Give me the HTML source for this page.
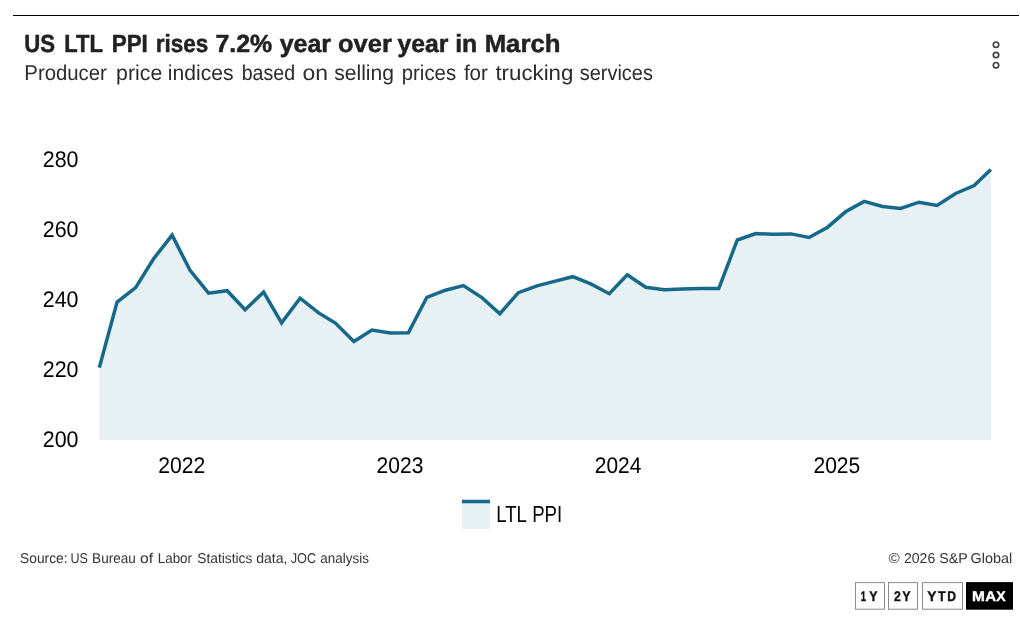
<!DOCTYPE html>
<html lang="en">
<head>
<meta charset="utf-8">
<title>US LTL PPI rises 7.2% year over year in March</title>
<style>
html,body{margin:0;padding:0;background:#fff;}
body{width:1020px;height:627px;overflow:hidden;font-family:"Liberation Sans",sans-serif;}
svg{display:block;position:absolute;left:0;top:0;}
text{font-family:"Liberation Sans",sans-serif;text-rendering:geometricPrecision;}
</style>
</head>
<body>
<svg width="1020" height="627" viewBox="0 0 1020 627">
<rect x="13" y="15" width="1006" height="1" fill="#000"/>
<g fill="none" stroke="#444" stroke-width="1.7">
<circle cx="996" cy="44.7" r="2.7"/><circle cx="996" cy="55" r="2.7"/><circle cx="996" cy="65.2" r="2.7"/>
</g>
<path d="M99.3,367.6 L117.09,302 L135.63,287.6 L153.57,258.8 L172.11,235.1 L190.05,270.4 L208.59,293.2 L227.13,290.7 L245.08,309.8 L263.62,292 L281.56,322.8 L300.1,298.2 L318.64,312.9 L335.39,323.1 L353.93,341.5 L371.87,330 L390.41,332.9 L408.35,332.7 L426.89,297.3 L445.43,290.2 L463.37,285.6 L481.92,297.6 L499.86,313.7 L518.4,292.7 L536.94,285.9 L554.28,281.4 L572.82,276.7 L590.77,283.9 L609.31,293.7 L627.25,274.7 L645.79,287.2 L664.33,289.8 L682.27,289.0 L700.81,288.6 L718.75,288.6 L737.3,240 L755.84,233.5 L772.58,234.3 L791.12,233.9 L809.06,237.5 L827.61,227.2 L845.55,211.8 L864.09,201.4 L882.63,206.5 L900.57,208.4 L919.11,202.2 L937.05,205.5 L955.59,193.5 L974.13,185.5 L990.88,169.4 L990.88,440 L99.3,440 Z" fill="#e7f0f3"/>
<path d="M99.3,367.6 L117.09,302 L135.63,287.6 L153.57,258.8 L172.11,235.1 L190.05,270.4 L208.59,293.2 L227.13,290.7 L245.08,309.8 L263.62,292 L281.56,322.8 L300.1,298.2 L318.64,312.9 L335.39,323.1 L353.93,341.5 L371.87,330 L390.41,332.9 L408.35,332.7 L426.89,297.3 L445.43,290.2 L463.37,285.6 L481.92,297.6 L499.86,313.7 L518.4,292.7 L536.94,285.9 L554.28,281.4 L572.82,276.7 L590.77,283.9 L609.31,293.7 L627.25,274.7 L645.79,287.2 L664.33,289.8 L682.27,289.0 L700.81,288.6 L718.75,288.6 L737.3,240 L755.84,233.5 L772.58,234.3 L791.12,233.9 L809.06,237.5 L827.61,227.2 L845.55,211.8 L864.09,201.4 L882.63,206.5 L900.57,208.4 L919.11,202.2 L937.05,205.5 L955.59,193.5 L974.13,185.5 L990.88,169.4" fill="none" stroke="#16698a" stroke-width="3.5" stroke-linejoin="miter"/>
<rect x="462" y="501" width="28" height="27.7" fill="#e7f0f3"/>
<rect x="462" y="499.75" width="28" height="3.5" fill="#16698a"/>
<text y="52.00" font-size="24.80" font-weight="700" fill="#222" stroke="#222" stroke-width="0.5"><tspan x="24.22" textLength="30.80" lengthAdjust="spacingAndGlyphs">US</tspan> <tspan x="64.23" textLength="38.24" lengthAdjust="spacingAndGlyphs">LTL</tspan> <tspan x="111.68" textLength="36.16" lengthAdjust="spacingAndGlyphs">PPI</tspan> <tspan x="155.78" textLength="52.39" lengthAdjust="spacingAndGlyphs">rises</tspan> <tspan x="215.45" textLength="56.83" lengthAdjust="spacingAndGlyphs">7.2%</tspan> <tspan x="279.70" textLength="51.39" lengthAdjust="spacingAndGlyphs">year</tspan> <tspan x="338.03" textLength="53.83" lengthAdjust="spacingAndGlyphs">over</tspan> <tspan x="397.40" textLength="50.88" lengthAdjust="spacingAndGlyphs">year</tspan> <tspan x="455.21" textLength="22.10" lengthAdjust="spacingAndGlyphs">in</tspan> <tspan x="484.65" textLength="75.89" lengthAdjust="spacingAndGlyphs">March</tspan></text>
<text y="79.70" font-size="21.45" font-weight="400" fill="#2b2b2b"><tspan x="24.37" textLength="82.49" lengthAdjust="spacingAndGlyphs">Producer</tspan> <tspan x="116.11" textLength="46.10" lengthAdjust="spacingAndGlyphs">price</tspan> <tspan x="167.82" textLength="65.77" lengthAdjust="spacingAndGlyphs">indices</tspan> <tspan x="241.63" textLength="53.44" lengthAdjust="spacingAndGlyphs">based</tspan> <tspan x="302.58" textLength="25.55" lengthAdjust="spacingAndGlyphs">on</tspan> <tspan x="334.27" textLength="59.70" lengthAdjust="spacingAndGlyphs">selling</tspan> <tspan x="401.78" textLength="54.29" lengthAdjust="spacingAndGlyphs">prices</tspan> <tspan x="463.89" textLength="24.06" lengthAdjust="spacingAndGlyphs">for</tspan> <tspan x="495.45" textLength="77.91" lengthAdjust="spacingAndGlyphs">trucking</tspan> <tspan x="579.70" textLength="73.25" lengthAdjust="spacingAndGlyphs">services</tspan></text>
<text y="166.70" font-size="22.57" font-weight="400" fill="#000"><tspan x="42.83" textLength="35.70" lengthAdjust="spacingAndGlyphs">280</tspan></text>
<text y="236.70" font-size="22.57" font-weight="400" fill="#000"><tspan x="42.83" textLength="35.70" lengthAdjust="spacingAndGlyphs">260</tspan></text>
<text y="306.70" font-size="22.57" font-weight="400" fill="#000"><tspan x="42.83" textLength="35.70" lengthAdjust="spacingAndGlyphs">240</tspan></text>
<text y="376.70" font-size="22.57" font-weight="400" fill="#000"><tspan x="42.83" textLength="35.70" lengthAdjust="spacingAndGlyphs">220</tspan></text>
<text y="446.70" font-size="22.57" font-weight="400" fill="#000"><tspan x="42.83" textLength="35.70" lengthAdjust="spacingAndGlyphs">200</tspan></text>
<text y="472.70" font-size="22.57" font-weight="400" fill="#000"><tspan x="158.24" textLength="47.01" lengthAdjust="spacingAndGlyphs">2022</tspan></text>
<text y="472.70" font-size="22.57" font-weight="400" fill="#000"><tspan x="376.55" textLength="46.79" lengthAdjust="spacingAndGlyphs">2023</tspan></text>
<text y="472.70" font-size="22.57" font-weight="400" fill="#000"><tspan x="594.85" textLength="46.57" lengthAdjust="spacingAndGlyphs">2024</tspan></text>
<text y="472.70" font-size="22.57" font-weight="400" fill="#000"><tspan x="813.45" textLength="46.79" lengthAdjust="spacingAndGlyphs">2025</tspan></text>
<text y="521.80" font-size="23.19" font-weight="400" fill="#000"><tspan x="496.25" textLength="29.98" lengthAdjust="spacingAndGlyphs">LTL</tspan> <tspan x="532.21" textLength="30.00" lengthAdjust="spacingAndGlyphs">PPI</tspan></text>
<text y="562.90" font-size="14.20" font-weight="400" fill="#333"><tspan x="20.11" textLength="47.41" lengthAdjust="spacingAndGlyphs">Source:</tspan> <tspan x="70.50" textLength="17.42" lengthAdjust="spacingAndGlyphs">US</tspan> <tspan x="92.11" textLength="43.76" lengthAdjust="spacingAndGlyphs">Bureau</tspan> <tspan x="139.97" textLength="13.09" lengthAdjust="spacingAndGlyphs">of</tspan> <tspan x="157.73" textLength="34.31" lengthAdjust="spacingAndGlyphs">Labor</tspan> <tspan x="197.21" textLength="55.16" lengthAdjust="spacingAndGlyphs">Statistics</tspan> <tspan x="256.14" textLength="31.24" lengthAdjust="spacingAndGlyphs">data,</tspan> <tspan x="290.65" textLength="25.46" lengthAdjust="spacingAndGlyphs">JOC</tspan> <tspan x="320.36" textLength="48.58" lengthAdjust="spacingAndGlyphs">analysis</tspan></text>
<text y="562.90" font-size="14.20" font-weight="400" fill="#333"><tspan x="888.59" textLength="11.26" lengthAdjust="spacingAndGlyphs">©</tspan> <tspan x="904.00" textLength="31.23" lengthAdjust="spacingAndGlyphs">2026</tspan> <tspan x="939.29" textLength="28.33" lengthAdjust="spacingAndGlyphs">S&amp;P</tspan> <tspan x="970.58" textLength="41.64" lengthAdjust="spacingAndGlyphs">Global</tspan></text>
<g fill="#fff" stroke="#8c8c8c" stroke-width="1">
<rect x="855.5" y="582.6" width="29" height="26.6"/>
<rect x="888.5" y="582.6" width="29" height="26.6"/>
<rect x="922.5" y="582.6" width="40" height="26.6"/>
</g>
<rect x="966" y="582.1" width="47" height="27.6" fill="#000"/>
<text y="600.90" font-size="14.06" font-weight="700" fill="#111" stroke="#111" stroke-width="0.4"><tspan x="860.84" textLength="5.21" lengthAdjust="spacingAndGlyphs">1</tspan><tspan x="869.15" textLength="8.26" lengthAdjust="spacingAndGlyphs">Y</tspan></text>
<text y="600.90" font-size="14.06" font-weight="700" fill="#111" stroke="#111" stroke-width="0.4"><tspan x="893.93" textLength="6.81" lengthAdjust="spacingAndGlyphs">2</tspan><tspan x="902.15" textLength="8.36" lengthAdjust="spacingAndGlyphs">Y</tspan></text>
<text y="600.90" font-size="14.06" font-weight="700" fill="#111" stroke="#111" stroke-width="0.4"><tspan x="927.32" textLength="9.21" lengthAdjust="spacingAndGlyphs">Y</tspan><tspan x="938.07" textLength="7.66" lengthAdjust="spacingAndGlyphs">T</tspan><tspan x="947.15" textLength="8.76" lengthAdjust="spacingAndGlyphs">D</tspan></text>
<text y="600.90" font-size="14.06" font-weight="700" fill="#fff" stroke="#fff" stroke-width="0.4"><tspan x="971.92" textLength="12.85" lengthAdjust="spacingAndGlyphs">M</tspan><tspan x="985.15" textLength="10.83" lengthAdjust="spacingAndGlyphs">A</tspan><tspan x="996.26" textLength="9.38" lengthAdjust="spacingAndGlyphs">X</tspan></text>
</svg>
</body>
</html>
